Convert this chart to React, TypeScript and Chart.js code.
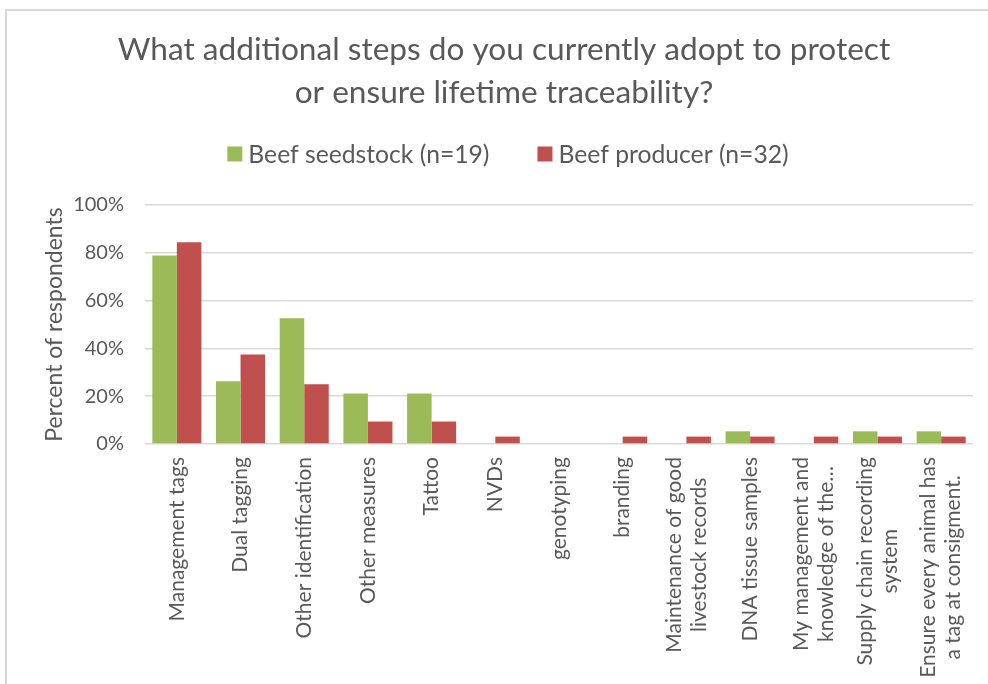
import React, { useEffect, useRef } from 'react';
import { Chart, registerables } from 'chart.js';

Chart.register(...registerables);

const titleLines = ['What additional steps do you currently adopt to protect', 'or ensure lifetime traceability?'];
const seriesNames = ['Beef seedstock (n=19)', 'Beef producer (n=32)'];
const seriesColors = ['#9BBB59', '#C0504D'];
const categories: (string | string[])[] = [
  'Management tags',
  'Dual tagging',
  'Other identification',
  'Other measures',
  'Tattoo',
  'NVDs',
  'genotyping',
  'branding',
  ['Maintenance of good', 'livestock records'],
  'DNA tissue samples',
  ['My management and', 'knowledge of the\u2026'],
  ['Supply chain recording', 'system'],
  ['Ensure every animal has', 'a tag at consigment.'],
];
const seedstock = [78.9, 26.3, 52.6, 21.1, 21.1, 0, 0, 0, 0, 5.3, 0, 5.3, 5.3];
const producer = [84.4, 37.5, 25.0, 9.4, 9.4, 3.1, 0, 3.1, 3.1, 3.1, 3.1, 3.1, 3.1];
const yMax = 100;
const yStep = 20;
const yTitle = 'Percent of respondents';

const FONT = 'Lato, Carlito, Calibri, "Liberation Sans", sans-serif';
const TEXT = '#595959';
const GRID = '#D9D9D9';

const frame = {
  id: 'frame',
  beforeDraw(chart: any) {
    const ctx = chart.ctx;
    ctx.save();
    ctx.fillStyle = '#ffffff';
    ctx.fillRect(0, 0, chart.width, chart.height);
    ctx.fillStyle = GRID;
    ctx.fillRect(5, 9, chart.width - 5, 2);
    ctx.fillRect(5, 9, 2, chart.height - 9);
    ctx.restore();
  },
};

const legendPlugin = {
  id: 'customLegend',
  afterDraw(chart: any) {
    const ctx = chart.ctx;
    const fs = 24.7;
    const box = 15;
    const gapBox = 6;
    const gapItem = 48;
    ctx.save();
    ctx.font = `${fs}px ${FONT}`;
    const items = chart.data.datasets.map((d: any) => ({ text: d.label, color: d.backgroundColor, w: ctx.measureText(d.label).width }));
    const total = items.reduce((s: number, it: any) => s + box + gapBox + it.w, 0) + gapItem * (items.length - 1);
    let x = 508 - total / 2;
    const y = 154;
    ctx.textBaseline = 'middle';
    ctx.textAlign = 'left';
    items.forEach((it: any) => {
      ctx.fillStyle = it.color;
      ctx.fillRect(x, y - box / 2, box, box);
      x += box + gapBox;
      ctx.fillStyle = TEXT;
      ctx.fillText(it.text, x, y + 1);
      x += it.w + gapItem;
    });
    ctx.restore();
  },
};

const xLabelPlugin = {
  id: 'xLabels',
  afterDraw(chart: any) {
    const ctx = chart.ctx;
    const xs = chart.scales.x;
    const fs = 21;
    const lh = 25;
    ctx.save();
    ctx.font = `${fs}px ${FONT}`;
    ctx.fillStyle = TEXT;
    const top = xs.top + 13;
    categories.forEach((lab, i) => {
      const lines = Array.isArray(lab) ? lab : [lab];
      const x = xs.getPixelForTick(i);
      const W = Math.max(...lines.map((l) => ctx.measureText(l).width));
      lines.forEach((l, j) => {
        const cx = x + (j - (lines.length - 1) / 2) * lh;
        ctx.save();
        ctx.translate(cx, top + W / 2);
        ctx.rotate(-Math.PI / 2);
        ctx.textAlign = 'center';
        ctx.textBaseline = 'middle';
        ctx.fillText(l, 0, 0);
        ctx.restore();
      });
    });
    ctx.restore();
  },
};

export default function App() {
  const ref = useRef<HTMLCanvasElement | null>(null);
  useEffect(() => {
    if (!ref.current) return;
    const chart = new Chart(ref.current, {
      type: 'bar',
      data: {
        labels: categories as any,
        datasets: [
          { label: seriesNames[0], data: seedstock, backgroundColor: seriesColors[0], categoryPercentage: 0.77, barPercentage: 1 },
          { label: seriesNames[1], data: producer, backgroundColor: seriesColors[1], categoryPercentage: 0.77, barPercentage: 1 },
        ],
      },
      options: {
        responsive: false,
        animation: false,
        devicePixelRatio: 1,
        layout: { padding: { left: 35, right: 15, top: 0, bottom: 0 } },
        plugins: {
          legend: { display: false },
          tooltip: { enabled: false },
          title: {
            display: true,
            text: titleLines,
            color: TEXT,
            font: { family: FONT, size: 31.6, weight: 'normal', lineHeight: 43 / 31.6 },
            padding: { top: 28, bottom: 91 },
          },
        },
        scales: {
          x: {
            grid: { display: false },
            border: { display: false },
            ticks: { display: false },
            afterFit: (s: any) => { s.height = 240; },
          },
          y: {
            min: 0,
            max: yMax,
            ticks: {
              stepSize: yStep,
              color: TEXT,
              padding: 21,
              font: { family: FONT, size: 20 },
              callback: (v: any) => `${v}%`,
            },
            grid: { color: GRID, lineWidth: 1.5, drawTicks: false },
            border: { display: false },
            title: {
              display: true,
              text: yTitle,
              color: TEXT,
              font: { family: FONT, size: 23 },
              padding: { top: 6, bottom: 0 },
            },
            afterFit: (s: any) => { s.width = 110; },
          },
        },
      },
      plugins: [frame, legendPlugin, xLabelPlugin],
    });
    return () => chart.destroy();
  }, []);
  return (
    <div style={{ position: 'fixed', left: 0, top: 0, width: 988, height: 684, background: '#fff' }}>
      <canvas ref={ref} width={988} height={684} style={{ width: 988, height: 684, display: 'block' }} />
    </div>
  );
}
